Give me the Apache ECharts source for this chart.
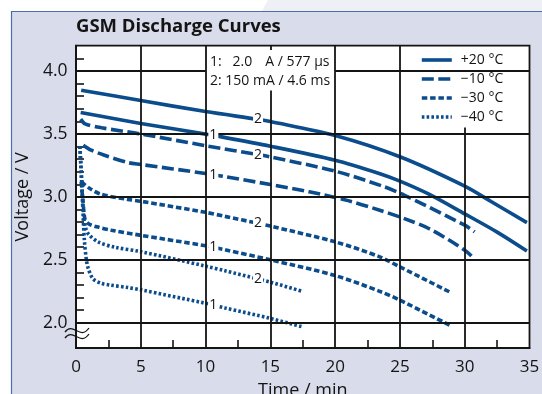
<!DOCTYPE html>
<html>
<head>
<meta charset="utf-8">
<title>GSM Discharge Curves</title>
<script src="https://cdn.jsdelivr.net/npm/echarts@6/dist/echarts.min.js"></script>
<style>
  html, body { margin: 0; padding: 0; background: #ffffff; }
  #chart { width: 542px; height: 394px; }
</style>
</head>
<body>
<div id="chart"></div>
<script>
// ---- axis ticks ----
const xTicks = [0, 5, 10, 15, 20, 25, 30, 35];
const xMinorTicks = [2.5, 7.5, 12.5, 17.5, 22.5, 27.5, 32.5];
const yTicks = [2.0, 2.5, 3.0, 3.5, 4.0];
const yMinorTicks = [2.0, 2.1, 2.2, 2.3, 2.4, 2.5, 2.6, 2.7, 2.8, 2.9, 3.0, 3.1, 3.2, 3.3, 3.4, 3.5, 3.6, 3.7, 3.8, 3.9, 4.0, 4.1];

// ---- legend / temperatures ----
const temps = ['+20 °C', '\u221210 °C', '\u221230 °C', '\u221240 °C'];
const pulseNote1 = ['1:', '2.0', 'A / 577 \u00b5s'];
const pulseNote2 = '2: 150 mA / 4.6 ms';

// where the curve tags sit (minutes)
const tagX1 = 10.6;
const tagX2 = 14.05;

// ---- discharge curves: [time / min, voltage / V] ----
// +20 °C
const t20_p2 = [[0.4, 3.847], [5, 3.765], [10, 3.677], [14.05, 3.615], [15, 3.598], [20, 3.487], [25, 3.318], [30, 3.085], [32, 2.965], [34.8, 2.795]];
const t20_p1 = [[0.36, 3.67], [5, 3.583], [10, 3.498], [10.6, 3.488], [15, 3.402], [20, 3.291], [23.4, 3.186], [25, 3.125], [27.16, 3.025], [30, 2.865], [32.5, 2.72], [34.8, 2.57]];
// -10 °C
const tm10_p2 = [[0.36, 3.617], [0.7, 3.58], [2, 3.548], [5, 3.499], [10, 3.406], [14.05, 3.335], [15, 3.317], [20, 3.204], [23.8, 3.08], [25.4, 3.01], [30, 2.775], [30.76, 2.722]];
const tm10_p1 = [[0.56, 3.41], [1.18, 3.37], [2.2, 3.33], [4, 3.272], [5, 3.257], [10, 3.186], [10.6, 3.176], [11.5, 3.16], [15, 3.098], [18, 3.04], [21, 2.97], [23.44, 2.894], [25.4, 2.825], [27.3, 2.745], [30, 2.577], [30.76, 2.505]];
// -30 °C
const tm30_p2 = [[0.4, 3.12], [1.06, 3.067], [1.95, 3.02], [4, 2.98], [5, 2.965], [10, 2.877], [11.5, 2.845], [14.05, 2.79], [15, 2.768], [20, 2.643], [23.44, 2.524], [25, 2.444], [28.97, 2.238]];
const tm30_p1 = [[0.4, 3.12], [0.55, 2.95], [0.7, 2.82], [1.0, 2.785], [1.6, 2.762], [2.72, 2.735], [4.93, 2.696], [10, 2.612], [10.6, 2.6], [11.5, 2.58], [15, 2.5], [20, 2.375], [23.44, 2.25], [25, 2.18], [28.97, 1.974]];
// -40 °C
const tm40_p2 = [[0.3, 3.40], [0.45, 3.1], [0.6, 2.85], [0.75, 2.75], [1.0, 2.70], [1.7, 2.643], [3.0, 2.60], [5, 2.565], [10, 2.45], [11.5, 2.413], [14.05, 2.348], [15, 2.323], [17.4, 2.252]];
const tm40_p1 = [[0.3, 3.40], [0.45, 3.1], [0.55, 2.85], [0.65, 2.65], [0.8, 2.5], [0.95, 2.43], [1.31, 2.35], [1.95, 2.313], [2.62, 2.30], [4.0, 2.28], [5, 2.262], [10, 2.155], [10.6, 2.14], [11.5, 2.118], [15, 2.035], [17.4, 1.97]];

const FONT = '"Open Sans", "Noto Sans", sans-serif';
const INK = '#141414';
const BLUE = '#0b4c8c';
const LINE_W = 3.6;

// dash pattern per temperature
const dashes = ['solid', [12, 4.5], [5.5, 2.8], [2.6, 2.2]];

const curves = [
  { temp: 0, data: t20_p2, tag: '2' },
  { temp: 0, data: t20_p1, tag: '1' },
  { temp: 1, data: tm10_p2, tag: '2' },
  { temp: 1, data: tm10_p1, tag: '1' },
  { temp: 2, data: tm30_p2, tag: '2' },
  { temp: 2, data: tm30_p1, tag: '1' },
  { temp: 3, data: tm40_p2, tag: '2' },
  { temp: 3, data: tm40_p1, tag: '1' }
];

const xMin = 0, xMax = 35, yMin = 1.8, yMax = 4.2;

// grid lines (the 4.0 V line and the 15 min line leave room for the pulse note,
// the 30 min line stops under the legend)
const gridSegments = [];
[5, 10, 20, 25].forEach(x => gridSegments.push([[x, yMin], [x, yMax]]));
gridSegments.push([[15, yMin], [15, 3.845]]);
gridSegments.push([[15, 4.165], [15, yMax]]);
gridSegments.push([[30, yMin], [30, 3.55]]);
[2.0, 2.5, 3.0, 3.5].forEach(y => gridSegments.push([[xMin, y], [xMax, y]]));
gridSegments.push([[xMin, 4.0], [10, 4.0]]);
gridSegments.push([[20, 4.0], [xMax, 4.0]]);

const series = [{
  type: 'line',
  name: 'grid',
  data: [],
  silent: true,
  z: 1,
  markLine: {
    silent: true,
    symbol: ['none', 'none'],
    animation: false,
    label: { show: false },
    lineStyle: { color: INK, width: 1.8, type: 'solid' },
    emphasis: { disabled: true },
    data: gridSegments.map(s => [{ coord: s[0] }, { coord: s[1] }])
  }
}];

curves.forEach(c => {
  const tx = c.tag === '1' ? tagX1 : tagX2;
  const tagPoint = c.data.find(p => p[0] === tx);
  series.push({
    type: 'line',
    name: temps[c.temp],
    data: c.data,
    smooth: 0.3,
    symbol: 'none',
    showSymbol: false,
    z: 3,
    lineStyle: { color: BLUE, width: LINE_W, type: dashes[c.temp], cap: 'butt' },
    itemStyle: { color: BLUE },
    emphasis: { disabled: true },
    markPoint: {
      symbol: 'rect',
      symbolSize: 0.1,
      silent: true,
      animation: false,
      data: [{ coord: tagPoint, value: c.tag }],
      label: {
        show: true,
        position: 'inside',
        formatter: c.tag,
        fontFamily: FONT,
        fontSize: 14,
        color: INK,
        backgroundColor: '#ffffff',
        padding: [0, 1]
      }
    }
  });
});

// axis break mark: two small waves across the value axis below 2.0 V
const wave = dy => ({
  type: 'bezierCurve', silent: true, z: 10,
  shape: { x1: 65, y1: 332 + dy, cpx1: 73, cpy1: 321 + dy, cpx2: 80, cpy2: 341 + dy, x2: 89, y2: 328 + dy },
  style: { fill: 'none', stroke: INK, lineWidth: 1.3 }
});

const noteText = (x, y, text, align) => ({
  type: 'text', silent: true, z: 10, x: x, y: y,
  style: { text: text, font: '14px ' + FONT, fill: INK, textVerticalAlign: 'middle', textAlign: align || 'left' }
});

const chart = echarts.init(document.getElementById('chart'), null, { renderer: 'canvas' });

chart.setOption({
  animation: false,
  backgroundColor: '#ffffff',
  textStyle: { fontFamily: FONT },
  graphic: [
    // outer frame
    { type: 'polygon', silent: true, z: -10, shape: { points: [[268, 0], [542, 0], [542, 11], [262, 11]] }, style: { fill: '#eef0f5' } },
    { type: 'rect', silent: true, z: -9, shape: { x: 11.5, y: 11.5, width: 540, height: 390 }, style: { fill: '#d9dcea', stroke: '#4a6fae', lineWidth: 1.2 } },
    // title
    { type: 'text', silent: true, z: 10, x: 76, y: 27, style: { text: 'GSM Discharge Curves', font: 'bold 18.5px ' + FONT, fill: INK, textVerticalAlign: 'middle' } },
    // pulse note
    noteText(210, 62.5, pulseNote1[0]),
    noteText(232.5, 62.5, pulseNote1[1]),
    noteText(329.5, 62.5, pulseNote1[2], 'right'),
    noteText(210, 81.3, pulseNote2),
    wave(0),
    wave(6)
  ],
  legend: {
    data: temps,
    orient: 'vertical',
    left: 420,
    top: 53,
    padding: 0,
    itemWidth: 30,
    itemHeight: 14,
    itemGap: 5,
    selectedMode: false,
    itemStyle: { opacity: 0 },
    lineStyle: { width: LINE_W },
    textStyle: { fontFamily: FONT, fontSize: 14, color: INK, padding: [0, 0, 0, 4] }
  },
  grid: {
    left: 76,
    top: 45.7,
    right: 12.5,
    bottom: 46,
    outerBoundsMode: 'none',
    containLabel: false,
    show: true,
    backgroundColor: '#ffffff',
    borderColor: INK,
    borderWidth: 1.8
  },
  xAxis: {
    type: 'value',
    min: xMin,
    max: xMax,
    interval: 5,
    name: 'Time / min',
    nameLocation: 'middle',
    nameGap: 34,
    nameTextStyle: { fontFamily: FONT, fontSize: 18, color: INK },
    axisLine: { show: true, lineStyle: { color: INK, width: 1.8 } },
    axisTick: { show: true, inside: true, length: 8, customValues: xMinorTicks, lineStyle: { color: INK, width: 1.6 } },
    axisLabel: { show: true, customValues: xTicks, margin: 11, fontFamily: FONT, fontSize: 17, color: INK },
    splitLine: { show: false }
  },
  yAxis: {
    type: 'value',
    min: yMin,
    max: yMax,
    name: 'Voltage / V',
    nameLocation: 'middle',
    nameGap: 38,
    nameTextStyle: { fontFamily: FONT, fontSize: 18, color: INK },
    axisLine: { show: true, lineStyle: { color: INK, width: 1.8 } },
    axisTick: { show: true, inside: true, length: 8, customValues: yMinorTicks, lineStyle: { color: INK, width: 1.6 } },
    axisLabel: { show: true, customValues: yTicks, margin: 8.5, fontFamily: FONT, fontSize: 17.5, color: INK, formatter: v => v.toFixed(1) },
    splitLine: { show: false }
  },
  series: series
});
</script>
</body>
</html>
